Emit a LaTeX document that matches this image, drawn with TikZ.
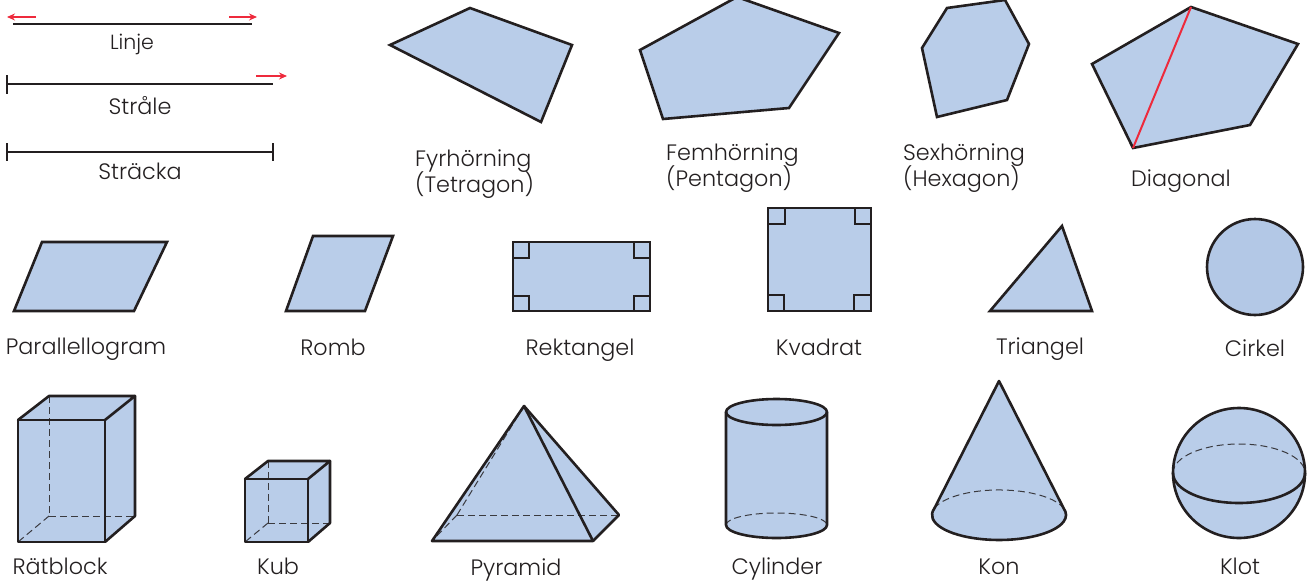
\documentclass[tikz,border=0pt]{standalone}
\usepackage{fontspec}
\setmainfont{Poppins Light}
\definecolor{fillblue}{HTML}{B9CDE9}
\definecolor{circblue}{HTML}{B3C8E6}
\definecolor{ink}{HTML}{231F20}
\definecolor{dashink}{HTML}{3A3A3F}
\definecolor{redline}{HTML}{EE2A3C}
\usetikzlibrary{arrows.meta}
\tikzset{
  solid3/.style={fill=fillblue,draw=ink,line width=2.6pt,line join=miter},
  edge3/.style={draw=ink,line width=2.6pt,line cap=round,line join=round},
  mark3/.style={draw=ink,line width=1.5pt},
  hidden3/.style={draw=dashink,line width=1pt,dash pattern=on 7pt off 4pt},
  rule3/.style={draw=ink,line width=2.6pt},
  redarrow/.style={draw=redline,line width=1.2pt,-{Stealth[length=8pt,width=7pt]}},
  lbl/.style={font=\fontsize{22.3}{26}\selectfont,text=ink,inner sep=0pt,anchor=base},
  lblsmall/.style={font=\fontsize{20.5}{24}\selectfont,text=ink,inner sep=0pt,anchor=base},
  lblleft/.style={lbl,anchor=base west}
}
\begin{document}
\begin{tikzpicture}[x=1pt,y=-1pt]
\useasboundingbox (0,0) rectangle (1311,581);
\clip (0,0) rectangle (1311,581);
% lines
\draw[rule3] (13,24) -- (252,24);
\draw[redarrow] (36,17) -- (7,17);
\draw[redarrow] (229,17) -- (257,17);
\node[lblsmall] (linje) at (132,49) {Linje};
\draw[rule3] (7,84) -- (273,84);
\draw[rule3] (7,75) -- (7,94);
\draw[redarrow] (256,76) -- (287,76);
\node[lbl] (strale) at (140,114) {Stråle};
\draw[rule3] (7,152) -- (273,152);
\draw[rule3] (7,143) -- (7,161);
\draw[rule3] (273,143) -- (273,161);
\node[lbl] (stracka) at (140,179) {Sträcka};
% polygons
\draw[solid3] (390,45) -- (470,8) -- (572,45) -- (541,122) -- cycle;
\node[lblleft] (fyr) at (415,166) {Fyrhörning};
\node[lblleft] (tetra) at (415,192) {(Tetragon)};
\draw[solid3] (640,50) -- (737,-3) -- (839,33) -- (789,108) -- (663,119) -- cycle;
\node[lblleft] (fem) at (666,160) {Femhörning};
\node[lblleft] (penta) at (666,186) {(Pentagon)};
\draw[solid3] (922,48) -- (947,8) -- (1005,0) -- (1029,44) -- (1007,100) -- (937,117) -- cycle;
\node[lblleft] (sex) at (903,160) {Sexhörning};
\node[lblleft] (hexa) at (903,186) {(Hexagon)};
\draw[solid3] (1092,64) -- (1191,7) -- (1298,44) -- (1250,125) -- (1133,148) -- cycle;
\draw[draw=redline,line width=2pt] (1191,7) -- (1133,148);
\node[lbl] (diag) at (1181,186) {Diagonal};
% row 2
\draw[solid3] (14,311) -- (42,242) -- (167,242) -- (134,311) -- cycle;
\node[lbl] (para) at (86,354) {Parallellogram};
\draw[solid3] (286,311) -- (313,236) -- (393,236) -- (365,311) -- cycle;
\node[lbl] (romb) at (333,355) {Romb};
\draw[solid3] (513,242) rectangle (650,311);
\draw[mark3] (513,258) -- (529,258) -- (529,242);
\draw[mark3] (634,242) -- (634,258) -- (650,258);
\draw[mark3] (513,296) -- (529,296) -- (529,311);
\draw[mark3] (634,311) -- (634,296) -- (650,296);
\node[lbl] (rekt) at (580,355) {Rektangel};
\draw[solid3] (768,208) rectangle (871,311);
\draw[mark3] (768,224) -- (785,224) -- (785,208);
\draw[mark3] (855,208) -- (855,224) -- (871,224);
\draw[mark3] (768,295) -- (784,295) -- (784,311);
\draw[mark3] (854,311) -- (854,295) -- (871,295);
\node[lbl] (kvad) at (819,355) {Kvadrat};
\draw[solid3] (990,311) -- (1062,226) -- (1092,311) -- cycle;
\node[lbl] (tri) at (1040,354) {Triangel};
\draw[fill=circblue,draw=ink,line width=2.6pt] (1255,267) circle[radius=48pt];
\node[lbl] (cirk) at (1255,356) {Cirkel};
% cuboid
\fill[fillblue] (18,420) -- (49,396) -- (135,396) -- (135,516) -- (105,542) -- (18,542) -- cycle;
\draw[hidden3] (49.4,396) -- (49.4,516);
\draw[hidden3] (49,516.4) -- (135,516.4);
\draw[hidden3] (49,516) -- (18,542);
\draw[edge3] (18,420) rectangle (105,542);
\draw[edge3] (18,420) -- (49,396) -- (135,396) -- (105,420);
\draw[edge3] (135,396) -- (135,516) -- (105,542);
\node[lbl] (ratb) at (60,574) {Rätblock};
% cube
\fill[fillblue] (245,479) -- (268,461) -- (330,461) -- (330,523) -- (308,542) -- (245,542) -- cycle;
\draw[hidden3] (268.4,461) -- (268.4,523);
\draw[hidden3] (268,523.4) -- (330,523.4);
\draw[hidden3] (268,523) -- (245,542);
\draw[edge3] (245,479) rectangle (308,542);
\draw[edge3] (245,479) -- (268,461) -- (330,461) -- (308,479);
\draw[edge3] (330,461) -- (330,523) -- (308,542);
\node[lbl] (kub) at (278,574) {Kub};
% pyramid
\fill[fillblue] (432,541) -- (524,406) -- (619,515) -- (593,541) -- cycle;
\draw[hidden3] (457,515.4) -- (619,515.4);
\draw[hidden3] (457,515) -- (432,541);
\draw[hidden3] (457,515) -- (524,406);
\draw[edge3] (432,541) -- (524,406) -- (593,541) -- cycle;
\draw[edge3] (524,406) -- (619,515) -- (593,541);
\node[lbl] (pyr) at (516,575) {Pyramid};
% cylinder
\fill[fillblue] (726,412) -- (726,525) arc[start angle=180,end angle=360,x radius=50.5pt,y radius=13pt] -- (827,412) arc[start angle=0,end angle=180,x radius=50.5pt,y radius=13pt] -- cycle;
\draw[hidden3] (726,525) arc[start angle=180,end angle=0,x radius=50.5pt,y radius=12pt];
\draw[edge3] (776.5,412) ellipse[x radius=50.5pt,y radius=13pt];
\draw[edge3] (726,412) -- (726,525) arc[start angle=180,end angle=360,x radius=50.5pt,y radius=13pt] -- (827,412);
\node[lbl] (cyl) at (777,574) {Cylinder};
% cone
\fill[fillblue] (999,381) -- (934.3,508.5) arc[start angle=165,end angle=375,x radius=67pt,y radius=25pt] -- cycle;
\draw[hidden3] (934.3,508.5) arc[start angle=165,end angle=15,x radius=67pt,y radius=25pt];
\draw[edge3] (999,381) -- (934.3,508.5) arc[start angle=165,end angle=375,x radius=67pt,y radius=25pt] -- cycle;
\node[lbl] (kon) at (999,574) {Kon};
% sphere
\fill[fillblue] (1239,473) ellipse[x radius=66pt,y radius=65pt];
\draw[hidden3] (1173,473) arc[start angle=180,end angle=0,x radius=66pt,y radius=29pt];
\draw[edge3] (1239,473) ellipse[x radius=66pt,y radius=65pt];
\draw[edge3] (1173,473) arc[start angle=180,end angle=360,x radius=66pt,y radius=30pt];
\node[lbl] (klot) at (1240,574) {Klot};
\end{tikzpicture}
\end{document}
